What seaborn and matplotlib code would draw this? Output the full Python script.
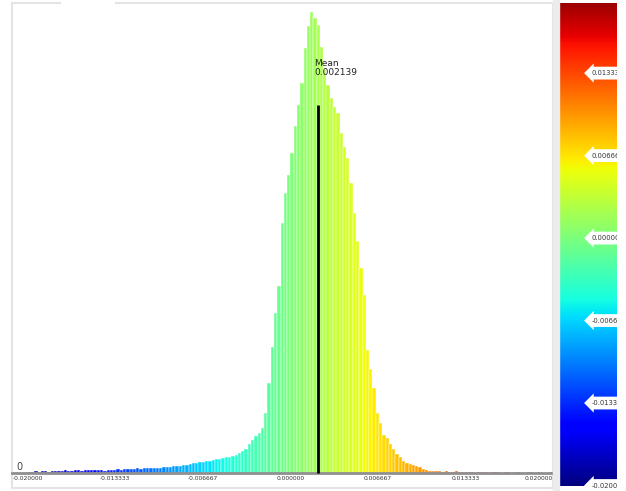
import numpy as np
import pandas as pd
import matplotlib
matplotlib.use("Agg")
import matplotlib.pyplot as plt
import seaborn as sns

# histogram (bin width 0.00025 starting at -0.02)
bin_start = -0.02
bin_width = 0.00025
counts = [
    1, 1, 2, 1, 2, 2, 1, 2, 2, 2,
    2, 3, 2, 2, 3, 3, 2, 3, 3, 3,
    3, 3, 3, 2, 3, 3, 3, 4, 3, 4,
    4, 4, 4, 5, 4, 5, 5, 5, 5, 5,
    5, 6, 6, 6, 7, 7, 7, 8, 8, 9,
    10, 10, 11, 11, 12, 12, 13, 14, 14, 15,
    16, 16, 17, 18, 20, 22, 24, 29, 33, 37,
    40, 45, 60, 90, 126, 160, 187, 250, 280, 298,
    320, 347, 368, 390, 425, 447, 461, 455, 448, 426,
    403, 388, 375, 366, 360, 340, 326, 315, 290, 260,
    232, 205, 178, 123, 104, 85, 60, 50, 38, 35,
    29, 24, 19, 16, 12, 10, 9, 8, 7, 6,
    4, 3, 2, 2, 2, 2, 1, 2, 1, 1,
    2, 1, 1, 1, 1, 1, 0, 1, 1, 1,
    0, 1, 1, 1, 0, 1, 1, 0, 1, 1,
    0, 0, 1, 1, 0, 1, 0, 0, 0, 1,
]
mean_value = 0.002139
mean_line_top = 368

tick_values = [-0.02, -0.013333, -0.006667, 0.0, 0.006667, 0.013333, 0.02]
tick_labels = ["-0.020000", "-0.013333", "-0.006667", "0.000000",
               "0.006667", "0.013333", "0.020000"]
cbar_values = [0.013333, 0.006667, 0.0, -0.006667, -0.013333, -0.02]
cbar_labels = ["0.013333", "0.006667", "0.000000", "-0.006667",
               "-0.013333", "-0.020000"]

sns.set_style("white")
plt.rcParams["font.family"] = ["DejaVu Sans"]

W, H = 626, 491
fig = plt.figure(figsize=(W / 100, H / 100), dpi=100)
ax = fig.add_axes([12 / W, 3 / H, 541 / W, 485 / H])

edges = bin_start + bin_width * np.arange(len(counts) + 1)
centers = edges[:-1] + bin_width / 2
df = pd.DataFrame({"value": centers, "count": counts})
cmap = plt.get_cmap("jet")
norm = plt.Normalize(-0.02, 0.02)

sns.histplot(data=df, x="value", weights="count", bins=list(edges), ax=ax,
             stat="count", edgecolor="white", linewidth=0.3, alpha=1)
for patch, c in zip(ax.patches, centers):
    patch.set_facecolor(cmap(norm(c)))

ax.set_xlim(-0.0212, 0.02)
ax.set_ylim(-15, 470)
ax.set_xlabel("")
ax.set_ylabel("")
ax.set_yticks([])

# axis line and tick labels
ax.spines["bottom"].set_position(("data", 0))
ax.spines["bottom"].set_color("#8f8f8f")
ax.spines["bottom"].set_linewidth(2)
for s in ["left", "top", "right"]:
    ax.spines[s].set_color("#e4e4e4")
    ax.spines[s].set_linewidth(1.5)
ax.set_xticks(tick_values)
ax.set_xticklabels(tick_labels)
ax.tick_params(axis="x", length=0, labelsize=4.3, pad=2, colors="#333333")
ax.get_xticklabels()[-1].set_ha("right")
ax.plot([0, 1], [0, 0], transform=ax.transAxes, color="#e4e4e4", lw=1.5, clip_on=False)
ax.plot([0.094, 0.187], [1, 1], transform=ax.transAxes, color="white", lw=3,
        clip_on=False, zorder=5)

ax.text(0.008, 1, "0", transform=ax.get_yaxis_transform(), fontsize=7,
        color="#444444", va="bottom", ha="left")

# mean marker
ax.vlines(mean_value, 0, mean_line_top, color="black", lw=2, zorder=4)
ax.annotate("Mean\n" + f"{mean_value:.6f}", xy=(mean_value, mean_line_top),
            xytext=(-4, 28), textcoords="offset pixels", fontsize=6.5,
            color="#222222", va="bottom", ha="left", linespacing=1.0)

# gray gap before the colour bar
fig.patches.append(plt.Rectangle((553 / W, 0), 6 / W, 1, transform=fig.transFigure,
                                 color="#ececec", zorder=0))

# colour bar with flag labels
cax = fig.add_axes([559 / W, 3 / H, 58 / W, 485 / H])
gradient = np.linspace(-0.02, 0.02, 512).reshape(-1, 1)
cax.imshow(gradient, aspect="auto", cmap=cmap, norm=norm, origin="lower",
           extent=[0, 1, -0.02, 0.02])
cax.set_ylim(-0.0202, 0.0190)
cax.set_xlim(0, 1)
cax.set_xticks([])
cax.set_yticks([])
for s in cax.spines.values():
    s.set_visible(False)
for v, lab in zip(cbar_values, cbar_labels):
    t = cax.text(0.56, v, lab, fontsize=4.9, color="#333333", va="center", ha="left",
                 bbox=dict(boxstyle="larrow,pad=0.5", fc="white", ec="none"))
    t.set_clip_on(True)

fig.savefig("out.png", dpi=100)
